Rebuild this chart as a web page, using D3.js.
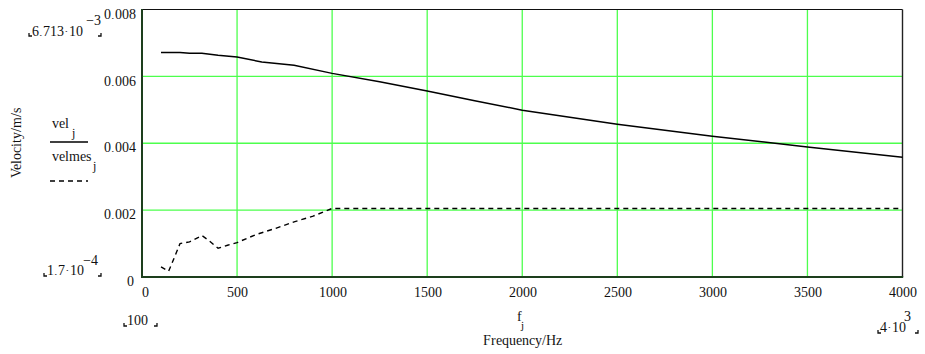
<!DOCTYPE html>
<html>
<head>
<meta charset="utf-8">
<script src="https://cdn.jsdelivr.net/npm/d3@7/dist/d3.min.js"></script>
<style>
  @font-face {
    font-family: "ChartSerif";
    src: local("Liberation Serif"), local("LiberationSerif"), local("LiberationSerif-Regular"),
         local("Times New Roman"), local("DejaVu Serif"), local("DejaVuSerif");
  }
  html, body { margin: 0; padding: 0; background: #fff; }
  svg, svg text { font-family: "ChartSerif", "Liberation Serif", "Times New Roman", "DejaVu Serif", serif !important; }
</style>
</head>
<body>
<svg id="chart" width="925" height="354"></svg>
<script>
// Frequency samples (Hz) and computed velocity vel_j (m/s)
const velFreq = [100, 200, 250, 315, 400, 500, 630, 800, 1000, 1250, 1500, 1750, 2000, 2500, 3000, 3500, 4000];
const velValues = [0.006713, 0.006713, 0.00669, 0.00669, 0.00663, 0.00658, 0.00643, 0.00633, 0.00609, 0.00584, 0.00556, 0.00527, 0.00499, 0.00457, 0.00421, 0.00389, 0.00358];

// Frequency samples (Hz) and measured velocity velmes_j (m/s)
const mesFreq = [100, 140, 175, 200, 250, 315, 350, 400, 450, 500, 600, 700, 800, 900, 1000, 1500, 2000, 2500, 3000, 3500, 4000];
const mesValues = [0.00030, 0.00017, 0.00065, 0.00100, 0.00105, 0.00124, 0.00110, 0.00086, 0.00095, 0.00103, 0.00127, 0.00145, 0.00165, 0.00182, 0.00205, 0.00205, 0.00205, 0.00205, 0.00205, 0.00205, 0.00205];

// Axis ticks
const xTicks = [0, 500, 1000, 1500, 2000, 2500, 3000, 3500, 4000];
const xTickLabels = ["0", "500", "1000", "1500", "2000", "2500", "3000", "3500", "4000"];
const yTicks = [0, 0.002, 0.004, 0.006, 0.008];
const yTickLabels = ["0", "0.002", "0.004", "0.006", "0.008"];

const FONT = "ChartSerif, Liberation Serif, Times New Roman, DejaVu Serif, serif";
const svg = d3.select("#chart");
const plot = { left: 142, right: 902.5, top: 9.5, bottom: 277 };

const x = d3.scaleLinear().domain([0, 4000]).range([plot.left, plot.right]);
const y = d3.scaleLinear().domain([0, 0.008]).range([plot.bottom, plot.top]);

const gridColor = "#4dff4d";
const frameDark = "#1d3f1d";

// Grid lines
const grid = svg.append("g");
grid.selectAll("line.vx").data(xTicks.slice(1, -1)).join("line")
  .attr("x1", d => x(d)).attr("x2", d => x(d))
  .attr("y1", plot.top).attr("y2", plot.bottom)
  .attr("stroke", gridColor).attr("stroke-width", 1.3);
grid.selectAll("line.hy").data(yTicks.slice(1, -1)).join("line")
  .attr("x1", plot.left).attr("x2", plot.right)
  .attr("y1", d => y(d)).attr("y2", d => y(d))
  .attr("stroke", gridColor).attr("stroke-width", 1.3);

// Frame: top/right thin black, left/bottom dark green
svg.append("line").attr("x1", plot.left).attr("x2", plot.right).attr("y1", plot.top).attr("y2", plot.top)
  .attr("stroke", "#111").attr("stroke-width", 1.2);
svg.append("line").attr("x1", plot.right).attr("x2", plot.right).attr("y1", plot.top).attr("y2", plot.bottom)
  .attr("stroke", "#222").attr("stroke-width", 1.4);
svg.append("line").attr("x1", plot.left).attr("x2", plot.left).attr("y1", plot.top - 0.6).attr("y2", plot.bottom + 1)
  .attr("stroke", frameDark).attr("stroke-width", 2);
svg.append("line").attr("x1", plot.left - 1).attr("x2", plot.right + 0.7).attr("y1", plot.bottom).attr("y2", plot.bottom)
  .attr("stroke", frameDark).attr("stroke-width", 2);

// Axes (labels only)
const xAxis = d3.axisBottom(x).tickValues(xTicks).tickSize(0)
  .tickFormat((d, i) => xTickLabels[i]);
const gx = svg.append("g").attr("transform", `translate(0,${plot.bottom})`).call(xAxis)
  .attr("font-family", FONT);
gx.select(".domain").remove();
gx.selectAll("text").attr("font-family", FONT).attr("font-size", 14)
  .attr("fill", "#111").attr("dy", null).attr("y", 20);
gx.selectAll(".tick").filter(d => d === 0).select("text").attr("dx", 3);

const yAxis = d3.axisLeft(y).tickValues(yTicks).tickSize(0)
  .tickFormat((d, i) => yTickLabels[i]);
const gy = svg.append("g").attr("transform", `translate(${plot.left},0)`).call(yAxis)
  .attr("font-family", FONT);
gy.select(".domain").remove();
gy.selectAll("text").attr("font-family", FONT).attr("font-size", 14)
  .attr("fill", "#111").attr("x", -6).attr("dy", "0.62em");
gy.selectAll(".tick").filter(d => d === 0).select("text").attr("x", -8);

// Traces
const line = d3.line().x(d => x(d[0])).y(d => y(d[1]));
svg.append("path").datum(velFreq.map((f, i) => [f, velValues[i]]))
  .attr("d", line).attr("fill", "none").attr("stroke", "#000").attr("stroke-width", 1.5);
svg.append("path").datum(mesFreq.map((f, i) => [f, mesValues[i]]))
  .attr("d", line).attr("fill", "none").attr("stroke", "#000").attr("stroke-width", 1.4)
  .attr("stroke-dasharray", "5,4");

// Text helpers
function label(px, py, txt, size, anchor) {
  return svg.append("text").attr("x", px).attr("y", py).attr("font-size", size || 14)
    .attr("font-family", FONT)
    .attr("text-anchor", anchor || "start").attr("fill", "#111").text(txt);
}
// small placeholder corner marks around limit values
function corners(x0, x1, yb) {
  svg.append("path").attr("d", `M${x0},${yb - 3}V${yb}H${x0 + 3}`).attr("fill", "none")
    .attr("stroke", "#111").attr("stroke-width", 1.3);
  svg.append("path").attr("d", `M${x1 - 3},${yb}H${x1}V${yb - 3}`).attr("fill", "none")
    .attr("stroke", "#111").attr("stroke-width", 1.3);
}

// Y upper limit
label(32, 36, "6.713\u00b710");
label(86, 25, "\u22123");
corners(29, 101, 36);
// Y lower limit
label(47, 275, "1.7\u00b710");
label(83, 265, "\u22124");
corners(44, 101, 276);

// X limits
label(127, 325, "100");
corners(124, 157, 326);
label(880, 332, "4\u00b710");
label(904, 321, "3");
corners(878, 918, 333);

// Y axis title
svg.append("text").attr("transform", "translate(21,143) rotate(-90)")
  .attr("font-family", FONT)
  .attr("text-anchor", "middle").attr("font-size", 14).attr("fill", "#111").text("Velocity/m/s");

// Trace legend
label(52, 128, "vel");
label(72, 137, "j", 12);
svg.append("line").attr("x1", 50).attr("x2", 88).attr("y1", 142).attr("y2", 142)
  .attr("stroke", "#000").attr("stroke-width", 1.5);
label(52, 161, "velmes");
label(93, 170, "j", 12);
svg.append("line").attr("x1", 50).attr("x2", 88).attr("y1", 181).attr("y2", 181)
  .attr("stroke", "#000").attr("stroke-width", 1.4).attr("stroke-dasharray", "5,4");

// X axis title
label(517, 321, "f");
label(521, 329, "j", 11);
label(522, 345, "Frequency/Hz", 14, "middle");
</script>
</body>
</html>
